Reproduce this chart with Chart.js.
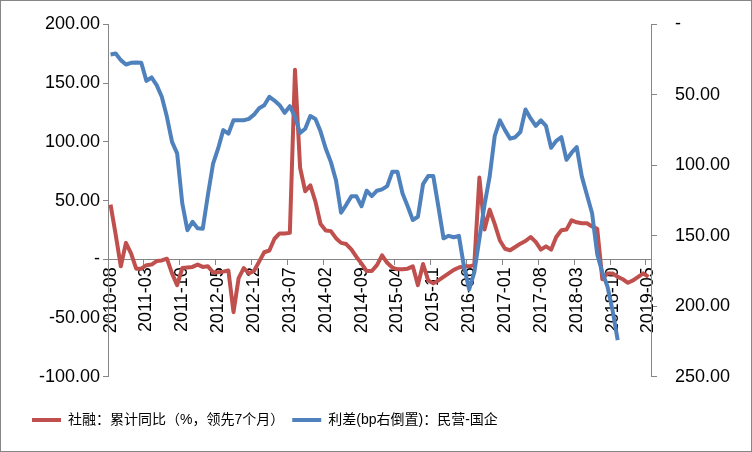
<!DOCTYPE html>
<html lang="zh">
<head>
<meta charset="UTF-8">
<title>社融与民营-国企利差</title>
<script src="https://cdn.jsdelivr.net/npm/chart.js@4.4.1/dist/chart.umd.min.js"></script>
<style>
  html, body { margin: 0; padding: 0; background: #fff; }
  .frame { width: 752px; height: 452px; box-sizing: border-box; border: 1px solid #868686; }
  .frame canvas { display: block; }
</style>
</head>
<body>
<div class="frame"><canvas id="chart" width="750" height="450"></canvas></div>
<script>
// months 2010-08 .. 2019-05
const months = [
  '2010-08','2010-09','2010-10','2010-11','2010-12',
  '2011-01','2011-02','2011-03','2011-04','2011-05','2011-06','2011-07','2011-08','2011-09','2011-10','2011-11','2011-12',
  '2012-01','2012-02','2012-03','2012-04','2012-05','2012-06','2012-07','2012-08','2012-09','2012-10','2012-11','2012-12',
  '2013-01','2013-02','2013-03','2013-04','2013-05','2013-06','2013-07','2013-08','2013-09','2013-10','2013-11','2013-12',
  '2014-01','2014-02','2014-03','2014-04','2014-05','2014-06','2014-07','2014-08','2014-09','2014-10','2014-11','2014-12',
  '2015-01','2015-02','2015-03','2015-04','2015-05','2015-06','2015-07','2015-08','2015-09','2015-10','2015-11','2015-12',
  '2016-01','2016-02','2016-03','2016-04','2016-05','2016-06','2016-07','2016-08','2016-09','2016-10','2016-11','2016-12',
  '2017-01','2017-02','2017-03','2017-04','2017-05','2017-06','2017-07','2017-08','2017-09','2017-10','2017-11','2017-12',
  '2018-01','2018-02','2018-03','2018-04','2018-05','2018-06','2018-07','2018-08','2018-09','2018-10','2018-11','2018-12',
  '2019-01','2019-02','2019-03','2019-04','2019-05'
];

// 社融累计同比 (%, 领先7个月) - left axis
const socialFinancing = [
  46.6, 21.0, -6.0, 14.0, 5.0, -8.0, -8.0, -5.0, -4.5, -1.5, -1.0, 0.5, -12.0, -22.0, -7.5, -7.0, -6.5, -4.5, -6.5, -6.0,
  -11.0, -11.0, -10.5, -9.5, -45.0, -16.0, -7.5, -12.0, -10.0, -2.0, 6.0, 7.5, 17.5, 22.0, 22.0, 22.5, 161.5, 78.0, 58.0, 63.0,
  49.0, 30.0, 24.5, 24.0, 18.0, 14.0, 13.0, 8.5, 2.0, -3.7, -10.0, -10.0, -5.0, 3.4, -3.0, -7.0, -8.5, -8.5, -8.0, -6.0,
  -22.0, -4.0, -18.0, -20.5, -18.0, -15.0, -12.0, -9.0, -7.0, -6.0, -6.0, -5.0, 69.6, 25.3, 42.3, 30.0, 16.0, 9.0, 7.7, 10.5,
  13.3, 15.6, 19.0, 14.8, 8.2, 11.0, 8.2, 19.0, 24.7, 25.3, 33.2, 31.5, 30.7, 30.7, 28.0, 26.0, -17.0, -12.0, -12.0, -15.0,
  -17.0, -20.0, -18.0, -15.0, -12.0, -15.0
];

// 利差 bp (右轴倒置): 民营-国企
const spread = [
  21.3, 20.6, 25.3, 28.4, 27.2, 27.0, 27.2, 40.0, 37.6, 43.0, 51.3, 65.5, 83.3, 91.5, 127.0, 146.0, 140.0, 144.7, 145.0, 121.0,
  99.0, 88.0, 75.0, 77.5, 68.0, 68.0, 68.0, 67.0, 64.0, 59.5, 57.3, 51.3, 54.0, 57.3, 62.7, 58.0, 65.5, 77.0, 74.0, 65.0,
  67.0, 76.0, 88.0, 97.5, 110.5, 133.6, 128.0, 122.0, 122.0, 129.0, 118.0, 121.8, 118.0, 117.0, 114.7, 104.5, 104.5, 120.0, 129.0, 138.8,
  136.5, 113.3, 107.6, 107.6, 129.4, 151.8, 150.0, 151.0, 150.0, 172.0, 188.0, 176.0, 152.0, 128.0, 108.0, 79.0, 68.0, 75.0, 81.0, 80.0,
  76.3, 60.3, 66.7, 72.0, 68.0, 72.0, 87.5, 82.6, 80.0, 96.0, 91.0, 87.0, 108.0, 121.0, 134.0, 163.0, 176.0, 186.0, 203.0, 224.0,
  null, null, null, null, null, null
];

const leftTicks = { min: -100, max: 200, step: 50 };
const rightTicks = { min: 0, max: 250, step: 50 };

const axisGray = '#868686';
const fmt = v => (v === 0 ? '-' : v.toFixed(2));

Chart.defaults.font.family = '"Liberation Sans", Arial, "Noto Sans CJK SC", sans-serif';
Chart.defaults.color = '#000';

new Chart(document.getElementById('chart'), {
  type: 'line',
  data: {
    labels: months,
    datasets: [{
      label: '社融：累计同比（%，领先7个月）',
      data: socialFinancing,
      yAxisID: 'y',
      borderColor: '#C0504D',
      backgroundColor: '#C0504D',
      borderWidth: 4,
      borderJoinStyle: 'round',
      pointRadius: 0,
      tension: 0,
      order: 2
    }, {
      label: '利差(bp右倒置)：民营-国企',
      data: spread,
      yAxisID: 'y2',
      borderColor: '#4F81BD',
      backgroundColor: '#4F81BD',
      borderWidth: 4,
      borderJoinStyle: 'round',
      pointRadius: 0,
      tension: 0,
      order: 1
    }]
  },
  options: {
    responsive: false,
    animation: false,
    layout: { padding: { top: 23.5, left: 23, right: 0, bottom: 14 } },
    plugins: {
      tooltip: { enabled: false },
      legend: {
        position: 'bottom',
        align: 'start',
        labels: {
          usePointStyle: true,
          pointStyle: 'line',
          pointStyleWidth: 29,
          padding: 8,
          font: { size: 14 },
          sort: (a, b) => a.datasetIndex - b.datasetIndex
        }
      }
    },
    scales: {
      x: {
        type: 'category',
        position: { y: 0 },
        offset: true,
        border: { color: axisGray },
        grid: {
          offset: true,
          drawOnChartArea: false,
          tickLength: 5,
          color: ctx => (ctx.index % 7 === 0 ? axisGray : 'rgba(0,0,0,0)')
        },
        ticks: {
          autoSkip: false,
          minRotation: 90,
          maxRotation: 90,
          padding: 3,
          font: { size: 18 },
          callback: function (v, i) { return i % 7 === 0 ? this.getLabelForValue(v) : ''; }
        }
      },
      xPad: {
        type: 'category',
        position: 'bottom',
        grid: { display: false },
        border: { display: false },
        ticks: { display: false },
        afterFit: s => { s.height = 28.3; }
      },
      y: {
        position: 'left',
        min: leftTicks.min,
        max: leftTicks.max,
        border: { color: axisGray },
        grid: { drawOnChartArea: false, tickLength: 5, color: axisGray },
        ticks: { stepSize: leftTicks.step, padding: 3, font: { size: 18 }, callback: fmt },
        afterFit: s => { s.width = 84; s.paddingTop = 0; s.paddingBottom = 0; }
      },
      y2: {
        position: 'right',
        reverse: true,
        min: rightTicks.min,
        max: rightTicks.max,
        border: { color: axisGray },
        grid: { drawOnChartArea: false, tickLength: 6, color: axisGray },
        ticks: { stepSize: rightTicks.step, padding: 18, font: { size: 18 }, callback: fmt },
        afterFit: s => { s.width = 100; s.paddingTop = 0; s.paddingBottom = 0; }
      }
    }
  }
});
</script>
</body>
</html>
